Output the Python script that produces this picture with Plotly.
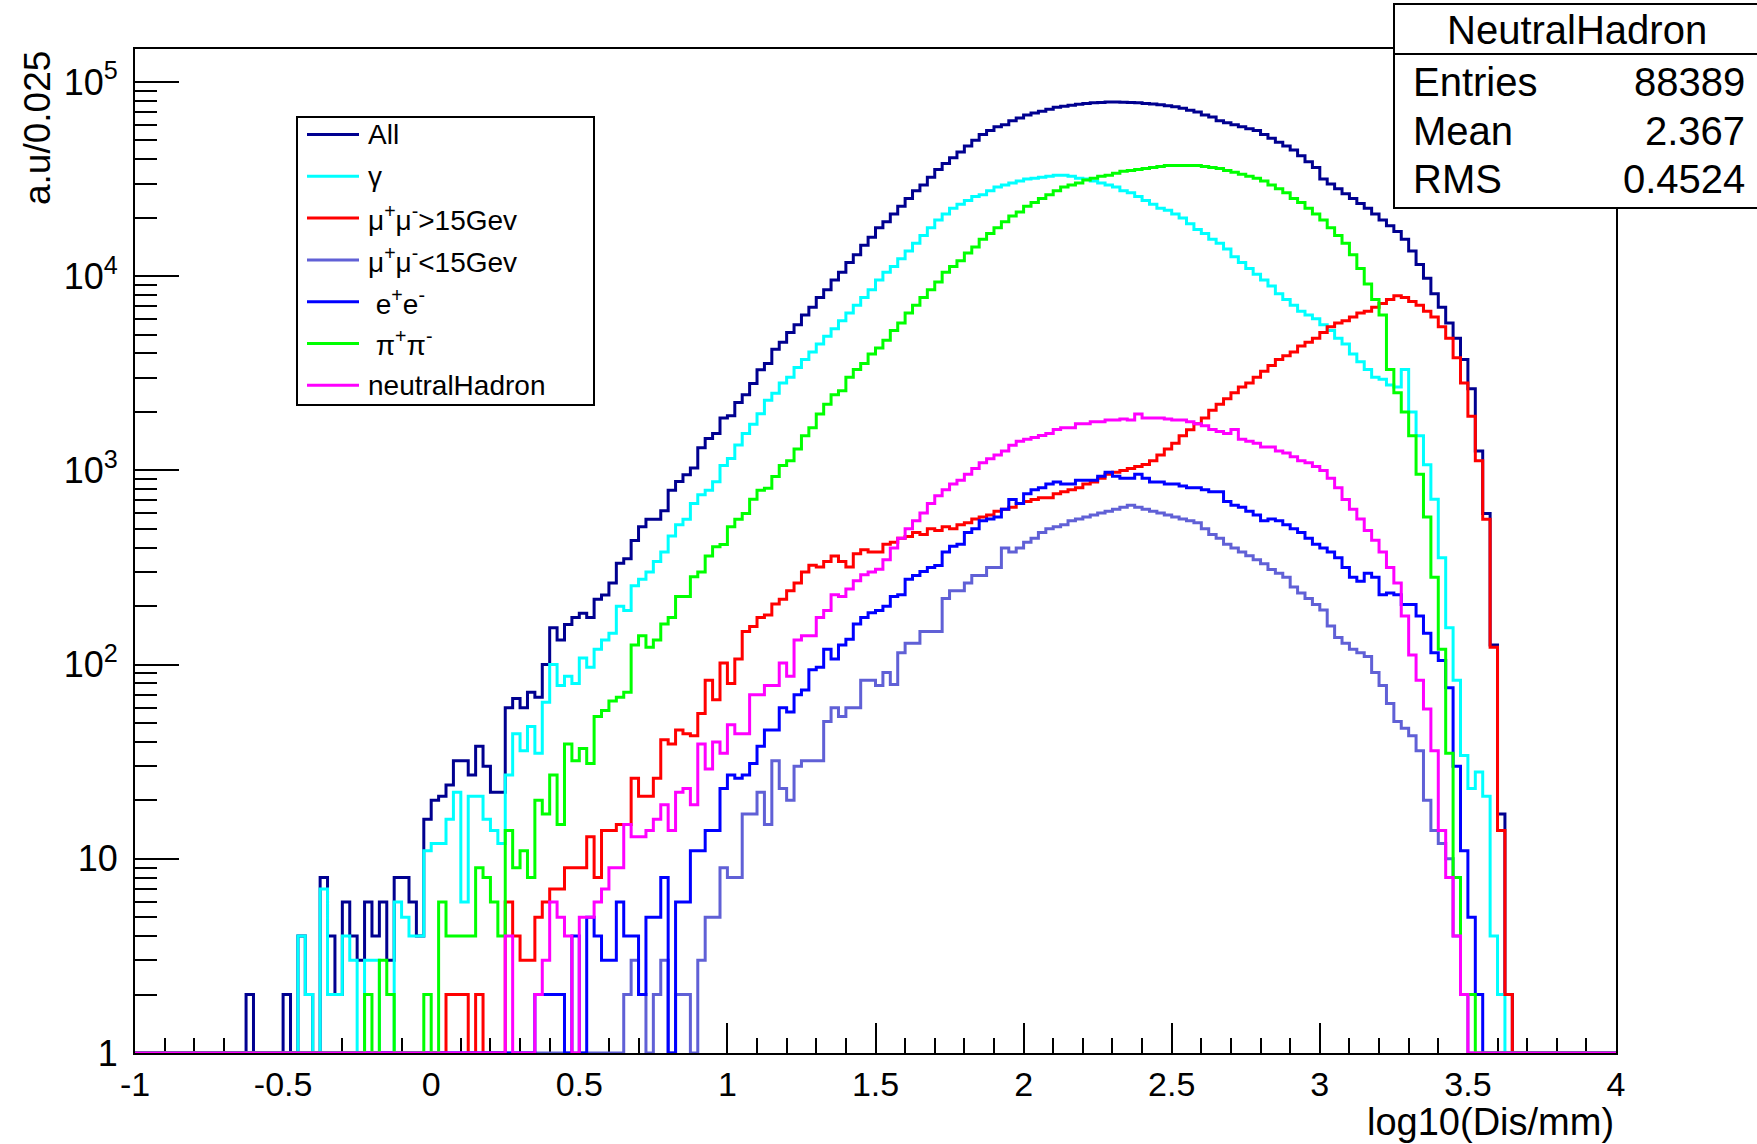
import plotly.graph_objects as go

# ---------------- data (counts per bin, 200 bins of width 0.025 from -1 to 4) ----------------
bin_start = -1.0
bin_width = 0.025

all_counts = [
    0, 0, 0, 0, 0, 0, 0, 0, 0, 0, 0, 0, 0, 0, 0, 2, 0, 0, 0, 0,
    2, 0, 4, 2, 0, 8, 4, 2, 6, 4, 3, 6, 4, 6, 3, 8, 8, 6, 4, 16,
    20, 21, 24, 32, 32, 27, 38, 30, 22, 22, 60, 67, 60, 72, 68, 100, 155, 134, 161, 175,
    184, 175, 217, 228, 263, 333, 351, 436, 513, 560, 560, 620, 790, 876, 950, 1030, 1310, 1460, 1550, 1860,
    1910, 2240, 2450, 2800, 3300, 3550, 4200, 4570, 5130, 5620, 6310, 6920, 7760, 8510, 9550, 10470, 11750, 12880, 14450, 15850,
    17780, 19050, 20890, 22910, 25120, 27540, 29510, 32360, 35480, 38020, 40740, 43650, 46770, 50120, 53700, 56230, 58880, 60260, 63100, 65310,
    67610, 69180, 70790, 72440, 74130, 74990, 75860, 76740, 77620, 78160, 78520, 78890, 78890, 78700, 78520, 78160, 77620, 77090, 76380, 75510,
    74470, 73280, 71610, 69980, 67610, 66070, 63100, 61660, 60260, 58880, 57540, 56230, 53700, 51290, 48980, 46770, 44670, 41690, 38900, 36310,
    31620, 29850, 28180, 26610, 25120, 23710, 22390, 20890, 19500, 18200, 16980, 15490, 13490, 11480, 9770, 8130, 6920, 5750, 4790, 3720,
    2630, 1260, 600, 126, 17, 2, 0, 0, 0, 0, 0, 0, 0, 0, 0, 0, 0, 0, 0, 0,
]

gamma_counts = [
    0, 0, 0, 0, 0, 0, 0, 0, 0, 0, 0, 0, 0, 0, 0, 0, 0, 0, 0, 0,
    0, 0, 4, 2, 0, 7, 2, 2, 4, 3, 0, 3, 3, 0, 0, 6, 5, 4, 4, 11,
    12, 12, 16, 22, 6, 21, 21, 16, 14, 12, 27, 44, 36, 48, 35, 64, 100, 78, 87, 80,
    108, 97, 120, 134, 145, 200, 190, 255, 275, 300, 340, 380, 460, 525, 560, 675, 750, 790, 875, 1060,
    1150, 1350, 1550, 1730, 1960, 2300, 2500, 2820, 3020, 3390, 3720, 4070, 4470, 4900, 5370, 5890, 6460, 7080, 7760, 8510,
    9550, 10470, 11220, 12300, 13490, 14790, 16220, 17780, 19500, 20890, 22390, 23440, 24550, 25700, 26300, 27540, 28840, 29510, 30200, 30900,
    31620, 31990, 32360, 32730, 33110, 33110, 32730, 31990, 31620, 30900, 30200, 29510, 28840, 27540, 26920, 25700, 24550, 23440, 22390, 21880,
    20890, 19950, 18620, 17380, 16600, 15490, 14790, 13800, 12590, 11750, 10960, 10230, 9550, 8910, 8130, 7590, 7080, 6610, 6310, 6030,
    5620, 5250, 4790, 4470, 3980, 3630, 3310, 3020, 2950, 2750, 2690, 3310, 2000, 1510, 1070, 710, 355, 155, 83, 34,
    23, 28, 21, 4, 2, 0, 0, 0, 0, 0, 0, 0, 0, 0, 0, 0, 0, 0, 0, 0,
]

mumu_hi_counts = [
    0, 0, 0, 0, 0, 0, 0, 0, 0, 0, 0, 0, 0, 0, 0, 0, 0, 0, 0, 0,
    0, 0, 0, 0, 0, 0, 0, 0, 0, 0, 0, 0, 0, 0, 0, 0, 0, 0, 0, 0,
    0, 0, 2, 2, 2, 0, 2, 0, 0, 0, 6, 4, 3, 3, 5, 6, 7, 7, 9, 9,
    9, 13, 8, 14, 14, 15, 15, 26, 21, 21, 26, 41, 39, 46, 44, 43, 56, 83, 66, 102,
    80, 107, 148, 157, 175, 180, 205, 217, 240, 263, 300, 325, 318, 340, 362, 340, 318, 372, 390, 380,
    380, 417, 427, 447, 457, 479, 468, 501, 490, 513, 501, 525, 537, 562, 575, 589, 617, 631, 646, 676,
    692, 708, 724, 724, 759, 776, 794, 813, 851, 871, 912, 955, 977, 1000, 1023, 1047, 1072, 1122, 1202, 1288,
    1380, 1510, 1620, 1740, 1860, 2040, 2190, 2340, 2510, 2690, 2820, 3020, 3240, 3470, 3720, 3890, 4070, 4370, 4570, 4790,
    5130, 5500, 5750, 5890, 6170, 6460, 6610, 6920, 7240, 7590, 7940, 7760, 7410, 7080, 6610, 6170, 5500, 4790, 3800, 2820,
    1900, 1120, 560, 123, 14, 2, 0, 0, 0, 0, 0, 0, 0, 0, 0, 0, 0, 0, 0, 0,
]

mumu_lo_counts = [
    0, 0, 0, 0, 0, 0, 0, 0, 0, 0, 0, 0, 0, 0, 0, 0, 0, 0, 0, 0,
    0, 0, 0, 0, 0, 0, 0, 0, 0, 0, 0, 0, 0, 0, 0, 0, 0, 0, 0, 0,
    0, 0, 0, 0, 0, 0, 0, 0, 0, 0, 0, 0, 0, 0, 0, 0, 0, 0, 0, 0,
    0, 0, 0, 0, 0, 0, 2, 3, 2, 0, 2, 3, 0, 2, 2, 0, 3, 5, 5, 9,
    8, 8, 17, 17, 22, 15, 32, 23, 20, 30, 32, 32, 32, 51, 60, 54, 60, 60, 83, 83,
    78, 91, 79, 115, 129, 129, 148, 148, 148, 219, 240, 240, 263, 288, 288, 316, 316, 398, 380, 398,
    427, 447, 479, 501, 513, 525, 550, 562, 575, 589, 603, 617, 631, 646, 661, 646, 631, 617, 603, 589,
    575, 562, 550, 537, 501, 468, 447, 417, 398, 380, 363, 347, 331, 309, 295, 282, 251, 234, 219, 204,
    191, 158, 138, 129, 120, 115, 110, 91, 78, 63, 51, 47, 43, 36, 20, 14, 12, 10, 4, 2,
    0, 0, 0, 0, 0, 0, 0, 0, 0, 0, 0, 0, 0, 0, 0, 0, 0, 0, 0, 0,
]

ee_counts = [
    0, 0, 0, 0, 0, 0, 0, 0, 0, 0, 0, 0, 0, 0, 0, 0, 0, 0, 0, 0,
    0, 0, 0, 0, 0, 0, 0, 0, 0, 0, 0, 0, 0, 0, 0, 0, 0, 0, 0, 0,
    0, 0, 0, 0, 0, 0, 0, 0, 0, 0, 0, 0, 0, 0, 2, 2, 2, 2, 0, 4,
    0, 5, 4, 3, 3, 6, 4, 4, 2, 5, 5, 8, 0, 6, 6, 11, 11, 14, 14, 23,
    27, 26, 27, 31, 38, 46, 46, 60, 57, 70, 74, 94, 97, 120, 107, 126, 135, 162, 175, 185,
    190, 200, 224, 229, 275, 288, 302, 316, 324, 380, 407, 417, 479, 501, 550, 562, 575, 631, 708, 676,
    759, 794, 813, 851, 871, 851, 851, 891, 891, 891, 933, 977, 933, 912, 912, 955, 912, 871, 871, 851,
    851, 832, 813, 813, 794, 776, 776, 692, 661, 646, 617, 589, 550, 562, 550, 525, 501, 479, 447, 417,
    398, 380, 355, 316, 282, 269, 295, 282, 229, 234, 229, 204, 204, 178, 145, 115, 105, 76, 30, 11,
    5, 2, 0, 0, 0, 0, 0, 0, 0, 0, 0, 0, 0, 0, 0, 0, 0, 0, 0, 0,
]

pipi_counts = [
    0, 0, 0, 0, 0, 0, 0, 0, 0, 0, 0, 0, 0, 0, 0, 0, 0, 0, 0, 0,
    0, 0, 0, 0, 0, 0, 0, 0, 0, 0, 0, 2, 0, 3, 2, 0, 0, 0, 0, 2,
    0, 6, 4, 4, 4, 4, 9, 8, 6, 4, 14, 9, 11, 8, 20, 17, 27, 15, 39, 32,
    37, 31, 54, 58, 65, 68, 72, 126, 141, 123, 134, 162, 175, 224, 224, 283, 300, 362, 405, 415,
    513, 560, 600, 710, 790, 810, 930, 1060, 1120, 1290, 1510, 1660, 1950, 2190, 2450, 2570, 3020, 3310, 3550, 3980,
    4270, 4680, 5250, 5750, 6460, 7080, 7760, 8510, 9330, 10470, 11220, 12020, 13180, 14130, 15490, 16600, 17780, 19050, 20420, 21380,
    22910, 23990, 25120, 26300, 27540, 28840, 29510, 30200, 31260, 31990, 32730, 33110, 33880, 34670, 35070, 35480, 35890, 36310, 36730, 37150,
    37150, 37150, 37150, 37150, 36730, 36310, 35890, 35070, 34280, 33500, 32730, 31990, 30900, 29510, 28180, 26920, 25120, 23990, 22390, 20890,
    19500, 17780, 16220, 14790, 12880, 10960, 9120, 7590, 6310, 3310, 2510, 2000, 1510, 955, 575, 282, 120, 35, 8, 2,
    2, 0, 0, 0, 0, 0, 0, 0, 0, 0, 0, 0, 0, 0, 0, 0, 0, 0, 0, 0,
]

nh_counts = [
    0, 0, 0, 0, 0, 0, 0, 0, 0, 0, 0, 0, 0, 0, 0, 0, 0, 0, 0, 0,
    0, 0, 0, 0, 0, 0, 0, 0, 0, 0, 0, 0, 0, 0, 0, 0, 0, 0, 0, 0,
    0, 0, 0, 0, 0, 0, 0, 0, 0, 0, 4, 0, 0, 0, 2, 3, 6, 5, 4, 0,
    5, 5, 6, 7, 9, 9, 15, 13, 13, 14, 16, 19, 14, 22, 23, 19, 39, 29, 40, 35,
    49, 44, 44, 70, 70, 78, 78, 102, 87, 134, 141, 141, 175, 190, 229, 224, 245, 270, 290, 300,
    310, 347, 398, 447, 501, 550, 603, 676, 741, 794, 851, 891, 955, 1023, 1096, 1148, 1202, 1259, 1349, 1413,
    1445, 1479, 1514, 1549, 1622, 1660, 1660, 1738, 1738, 1778, 1778, 1820, 1820, 1841, 1820, 1950, 1862, 1862, 1862, 1841,
    1820, 1820, 1778, 1738, 1698, 1622, 1585, 1549, 1622, 1445, 1413, 1380, 1318, 1318, 1259, 1230, 1175, 1122, 1096, 1047,
    1000, 912, 813, 708, 631, 562, 490, 437, 380, 316, 263, 178, 112, 83, 59, 36, 14, 8, 4, 2,
    0, 0, 0, 0, 0, 0, 0, 0, 0, 0, 0, 0, 0, 0, 0, 0, 0, 0, 0, 0,
]

series_names = ["All", "γ", "μ<sup>+</sup>μ<sup>-</sup>&gt;15Gev", "μ<sup>+</sup>μ<sup>-</sup>&lt;15Gev",
                "\u00a0e<sup>+</sup>e<sup>-</sup>", "\u00a0π<sup>+</sup>π<sup>-</sup>", "neutralHadron"]
series_values = [all_counts, gamma_counts, mumu_hi_counts, mumu_lo_counts, ee_counts, pipi_counts, nh_counts]
series_colors = ["#000090", "#00ffff", "#ff0000", "#6060d6", "#0000ff", "#00ff00", "#ff00ff"]

x_tick_vals = [-1, -0.5, 0, 0.5, 1, 1.5, 2, 2.5, 3, 3.5, 4]
x_tick_text = ["-1", "-0.5", "0", "0.5", "1", "1.5", "2", "2.5", "3", "3.5", "4"]
y_tick_vals = [1, 10, 100, 1000, 10000, 100000]
y_tick_text = ["1", "10", "10<sup>2</sup>", "10<sup>3</sup>", "10<sup>4</sup>", "10<sup>5</sup>"]

stats_title = "NeutralHadron"
stats_labels = ["Entries", "Mean", "RMS"]
stats_values = ["88389", "2.367", "0.4524"]

# ---------------- figure ----------------
W, H = 1757, 1144
ML, MR, MT, MB = 135, 141, 49, 91
PW, PH = W - ML - MR, H - MT - MB


def px(xp):
    return (xp - ML) / PW


def py(yp):
    return (H - MB - yp) / PH


FONT = "Liberation Sans, Arial, Helvetica, sans-serif"

n_bins = len(all_counts)
edges = [bin_start + bin_width * i for i in range(n_bins + 1)]

fig = go.Figure()
for name, vals, col in zip(series_names, series_values, series_colors):
    yv = [max(v, 1) for v in vals]
    yv = yv + [yv[-1]]
    fig.add_trace(go.Scatter(x=edges, y=yv, mode="lines", line=dict(color=col, width=3, shape="hv"),
                             name=name, showlegend=False, hoverinfo="skip"))

fig.update_layout(
    width=W, height=H,
    margin=dict(l=ML, r=MR, t=MT, b=MB),
    plot_bgcolor="white", paper_bgcolor="white",
    font=dict(family=FONT, color="black"),
    showlegend=False,
)

fig.update_xaxes(
    range=[-1, 4], tickmode="array", tickvals=x_tick_vals, ticktext=x_tick_text,
    ticks="inside", ticklen=30, tickwidth=2, tickcolor="black",
    minor=dict(tick0=-1, dtick=0.1, ticks="inside", ticklen=15, tickwidth=2, tickcolor="black", showgrid=False),
    showline=True, mirror=True, linecolor="black", linewidth=2,
    showgrid=False, zeroline=False, tickfont=dict(size=34, family=FONT),
    ticklabelstandoff=0, layer="below traces",
)
fig.update_yaxes(
    type="log", range=[0, 5.17], tickmode="array", tickvals=y_tick_vals, ticktext=y_tick_text,
    ticks="inside", ticklen=44, tickwidth=2, tickcolor="black",
    minor=dict(dtick="D1", ticks="inside", ticklen=22, tickwidth=2, tickcolor="black", showgrid=False),
    showline=True, mirror=True, linecolor="black", linewidth=2,
    showgrid=False, zeroline=False, tickfont=dict(size=36, family=FONT),
    ticklabelstandoff=8, layer="below traces",
)

shapes = []
annotations = []

# axis titles
annotations.append(dict(xref="paper", yref="paper", x=1.0, y=py(1122), xanchor="right", yanchor="middle",
                        text="log10(Dis/mm)", showarrow=False, font=dict(size=38, family=FONT)))
annotations.append(dict(xref="paper", yref="paper", x=px(37), y=py(49), xanchor="center", yanchor="top",
                        text="a.u/0.025", textangle=-90, showarrow=False, font=dict(size=37, family=FONT)))

# legend box
shapes.append(dict(type="rect", xref="paper", yref="paper", x0=px(297), x1=px(594), y0=py(405), y1=py(117),
                   line=dict(color="black", width=2), fillcolor="white", layer="above"))
row0, row_step = 134.5, 41.8
for k, (name, col) in enumerate(zip(series_names, series_colors)):
    yc = row0 + k * row_step
    shapes.append(dict(type="line", xref="paper", yref="paper", x0=px(307), x1=px(359), y0=py(yc), y1=py(yc),
                       line=dict(color=col, width=3), layer="above"))
    annotations.append(dict(xref="paper", yref="paper", x=px(366), y=py(yc), xanchor="left", yanchor="middle",
                            text=name, showarrow=False, font=dict(size=28, family=FONT)))

# stats box
shapes.append(dict(type="rect", xref="paper", yref="paper", x0=px(1394), x1=px(1760), y0=py(208), y1=py(4),
                   line=dict(color="black", width=2), fillcolor="white", layer="above"))
shapes.append(dict(type="line", xref="paper", yref="paper", x0=px(1394), x1=px(1760), y0=py(54), y1=py(54),
                   line=dict(color="black", width=2), layer="above"))
annotations.append(dict(xref="paper", yref="paper", x=px(1577), y=py(30), xanchor="center", yanchor="middle",
                        text=stats_title, showarrow=False, font=dict(size=40, family=FONT)))
for k, (lab, val) in enumerate(zip(stats_labels, stats_values)):
    yc = 82 + k * 48.5
    annotations.append(dict(xref="paper", yref="paper", x=px(1411), y=py(yc), xanchor="left", yanchor="middle",
                            text=lab, showarrow=False, font=dict(size=40, family=FONT)))
    annotations.append(dict(xref="paper", yref="paper", x=px(1747), y=py(yc), xanchor="right", yanchor="middle",
                            text=val, showarrow=False, font=dict(size=40, family=FONT)))

fig.update_layout(shapes=shapes, annotations=annotations)
fig.write_html("out.html")
